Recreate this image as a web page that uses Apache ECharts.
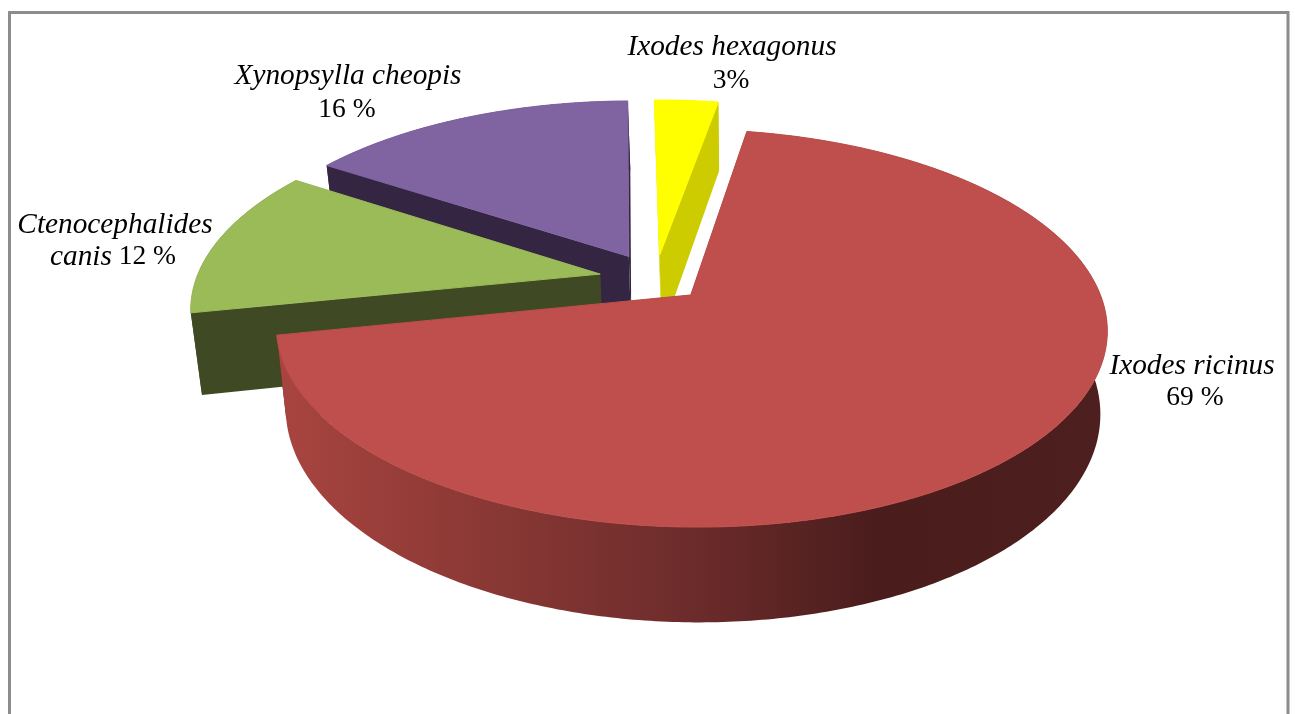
<!DOCTYPE html>
<html><head><meta charset="utf-8">
<style>html,body{margin:0;padding:0;background:#fff}#c{width:1295px;height:714px}</style>
<script src="https://cdn.jsdelivr.net/npm/echarts@6/dist/echarts.min.js"></script>
</head><body><div id="c"></div>
<script>
const categories = ['Ixodes ricinus','Ctenocephalides canis','Xynopsylla cheopis','Ixodes hexagonus'];
const values = [69,12.45,15.55,3];
const topColors = ['#BE4F4C','#9BBB59','#8064A2','#FFFF00'];
const sideColors = ['#4E1F1F','#3F4A24','#342642','#CCCC00'];
const explodes = [0.12,0.14,0.14,0.13];

// pie projection
const firstAngle = 10;
const P = {cx:655.5, cy:279, A:404, B:188, k:0.165, cx2:657.5, cy2:359, A2:396, B2:199.6};
const rad = d => d*Math.PI/180;
const proj = (u,v,low) => {
  const s = 1/(1-P.k*v);
  return low ? [P.cx2+P.A2*u*s, P.cy2+P.B2*v*s] : [P.cx+P.A*u*s, P.cy+P.B*v*s];
};
const total = values.reduce((a,b)=>a+b,0);
let run = firstAngle;
const spans = values.map(v=>{const a=run; run+=v/total*360; return [a,run];});

function renderSlice(params){
  const i = params.dataIndex, [a0,a1] = spans[i], mid=(a0+a1)/2, e=explodes[i];
  const ou=e*Math.sin(rad(mid)), ov=-e*Math.cos(rad(mid));
  const n=Math.max(8,Math.round((a1-a0)*1.5));
  const arc=low=>{const r=[];for(let j=0;j<=n;j++){const t=rad(a0+(a1-a0)*j/n);
    r.push(proj(ou+Math.sin(t),ov-Math.cos(t),low));}return r;};
  const top=arc(false), bot=arc(true);
  const apexT=proj(ou,ov,false), apexB=proj(ou,ov,true);
  const side=sideColors[i];
  const base=100-i*10;
  const poly=(pts,fill,z,lw)=>({type:'polygon',z2:base+z,silent:true,shape:{points:pts},
    style:lw?{fill:fill,stroke:fill,lineWidth:lw}:{fill:fill}});
  let wallFill=side;
  if(i===0){
    wallFill=new echarts.graphic.LinearGradient(283,0,1100,0,[
      {offset:0,color:'#A8443F'},{offset:0.25,color:'#8A3835'},{offset:0.5,color:'#6C2C2B'},
      {offset:0.73,color:'#4A1C1C'},{offset:1,color:'#4E1F1F'}],true);
  }
  return {type:'group',children:[
    poly([apexT,top[0],bot[0],apexB],side,0,0),
    poly([apexT,top[n],bot[n],apexB],side,1,0),
    poly(top.concat(bot.slice().reverse()),wallFill,2,0),
    poly([apexT].concat(top),topColors[i],3,1)
  ]};
}

// labels
const fontFamily='"Liberation Serif"', italicSize=29.3, plainSize=27.5;
const lab = (text,x,y,italic)=>({type:'text',silent:true,z:10,x:x,y:y,
  style:{text:text,align:'center',verticalAlign:'middle',fontStyle:italic?'italic':'normal',fontFamily,fontSize:italic?italicSize:plainSize,fill:'#000'}});

const chart = echarts.init(document.getElementById('c'),null,{renderer:'canvas'});
chart.setOption({
  animation:false,
  backgroundColor:'#fff',
  graphic:{elements:[
    {type:'rect',silent:true,z:0,shape:{x:9.5,y:12.5,width:1278.5,height:800},style:{fill:'#fff',stroke:'#8C8C8C',lineWidth:3}},
    lab('Ixodes hexagonus',732,47,true), lab('3%',731,81,false),
    lab('Xynopsylla cheopis',348,76,true), lab('16 %',347,110,false),
    lab('Ctenocephalides',115,225,true),
    {type:'text',silent:true,z:10,x:113,y:257,style:{text:'{i|canis} {n|12 %}',align:'center',verticalAlign:'middle',
      rich:{i:{fontStyle:'italic',fontFamily,fontSize:italicSize,fill:'#000'},n:{fontFamily,fontSize:plainSize,fill:'#000'}},
      fontFamily,fontSize:plainSize}},
    lab('Ixodes ricinus',1192,366,true), lab('69 %',1195,398,false)
  ]},
  series:[{type:'custom',coordinateSystem:'none',silent:true,z:5,clip:false,
    data:values.map((v,i)=>({name:categories[i],value:v})),renderItem:renderSlice}]
});
</script></body></html>
